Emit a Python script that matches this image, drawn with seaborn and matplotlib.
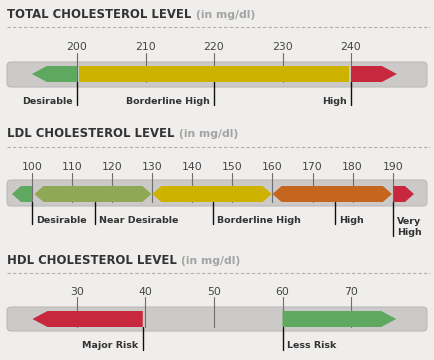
import matplotlib
matplotlib.use("Agg")
import matplotlib.pyplot as plt
from matplotlib.patches import Polygon, FancyBboxPatch
import seaborn as sns

# ---------------- data ----------------
total_ticks = [200, 210, 220, 230, 240]
total_bands = [(193.4, 200.0), (200.3, 239.7), (240.0, 246.7)]
total_shapes = ["left", "rect", "right"]
total_colors = ["#5fa85f", "#cdb300", "#c8283e"]
total_labels = ["Desirable", "Borderline High", "High"]
total_label_at = [200, 220, 240]
total_label_side = ["left", "left", "left"]

ldl_ticks = [100, 110, 120, 130, 140, 150, 160, 170, 180, 190]
ldl_bands = [(95.0, 100.0), (100.6, 129.8), (130.0, 159.8), (160.0, 189.8), (190.2, 195.3)]
ldl_shapes = ["left", "hex", "hex", "hex", "right"]
ldl_colors = ["#5fa85f", "#8fa855", "#cdb300", "#c4661d", "#c8283e"]
ldl_labels = ["Desirable", "Near Desirable", "Borderline High", "High", "Very\nHigh"]
ldl_label_at = [100, 115.7, 145.2, 175.7, 190]
ldl_label_side = ["right", "right", "right", "right", "right"]

hdl_ticks = [30, 40, 50, 60, 70]
hdl_bands = [(23.5, 39.6), (60.0, 76.6)]
hdl_shapes = ["left", "right"]
hdl_colors = ["#c8283e", "#5fa85f"]
hdl_labels = ["Major Risk", "Less Risk"]
hdl_label_at = [39.6, 60]
hdl_label_side = ["left", "right"]

titles = ["TOTAL CHOLESTEROL LEVEL", "LDL CHOLESTEROL LEVEL", "HDL CHOLESTEROL LEVEL"]

W, H = 435, 360
BG = "#efeeec"
DARK = "#333333"

sns.set_theme(style="white", rc={"figure.facecolor": BG, "axes.facecolor": BG})
plt.rcParams["font.family"] = ["DejaVu Sans"]


def band_poly(x0, x1, kind, y0, y1, head):
    ym = (y0 + y1) / 2
    if kind == "left":
        return [(x0, ym), (x0 + head, y0), (x1, y0), (x1, y1), (x0 + head, y1)]
    if kind == "right":
        return [(x0, y0), (x1 - head, y0), (x1, ym), (x1 - head, y1), (x0, y1)]
    if kind == "hex":
        return [(x0, ym), (x0 + head, y0), (x1 - head, y0), (x1, ym),
                (x1 - head, y1), (x0 + head, y1)]
    return [(x0, y0), (x1, y0), (x1, y1), (x0, y1)]


def draw_panel(ax, title, ticks, bands, shapes, colors, labels, label_at, sides,
               ref_val, ref_px, ppu, head_px, y):
    # x scale: data units, y scale: pixel rows (inverted)
    ax.set_xlim(ref_val - ref_px / ppu, ref_val + (W - ref_px) / ppu)
    ax.set_ylim(y["bottom"], y["top"])
    ax.axis("off")
    ya = ax.get_yaxis_transform()

    t = ax.text(7 / W, y["title"], title, transform=ya, ha="left", va="center",
                fontsize=8.4, fontweight="bold", color=DARK)
    ax.annotate("(in mg/dl)", xy=(1, 0.5), xycoords=t, xytext=(3, 0),
                textcoords="offset points", ha="left", va="center",
                fontsize=7.8, fontweight="bold", color="#a3a3a3")
    ax.plot([7 / W, 430 / W], [y["dash"], y["dash"]], transform=ya,
            color="#b0b0b0", lw=0.8, ls=(0, (3, 2)))

    # track
    x0 = ref_val - (ref_px - 7) / ppu
    x1 = ref_val + (427 - ref_px) / ppu
    track = FancyBboxPatch((x0, y["track"][0]), x1 - x0, y["track"][1] - y["track"][0],
                           boxstyle=f"round,pad=0,rounding_size={4 / ppu}",
                           mutation_aspect=ppu, facecolor="#cccac8",
                           edgecolor="#bdbbb9", lw=0.8, zorder=1)
    ax.add_patch(track)

    # ticks
    for v in ticks:
        ax.plot([v, v], [y["tick_top"], y["seg"][1]], color="#6e6e6e", lw=0.8, zorder=2)
        ax.text(v, y["tick"], str(v), ha="center", va="center", fontsize=7.8,
                color="#444444")

    # bands
    head = head_px / ppu
    for (b0, b1), kind, c in zip(bands, shapes, colors):
        ax.add_patch(Polygon(band_poly(b0, b1, kind, y["seg"][0], y["seg"][1], head),
                             closed=True, facecolor=c, edgecolor="none", zorder=3))

    # category labels
    for lab, v, side in zip(labels, label_at, sides):
        n = lab.count("\n")
        ax.plot([v, v], [y["seg"][1], y["lab_bot"] + 12 * n], color="#111111",
                lw=1.0, zorder=4)
        off = -3 if side == "left" else 3
        ax.annotate(lab, xy=(v, y["lab"] + 6 * n), xytext=(off, 0),
                    textcoords="offset points", ha="right" if side == "left" else "left",
                    va="center", fontsize=6.8, fontweight="bold", color=DARK,
                    linespacing=1.2)


fig = plt.figure(figsize=(W / 100, H / 100), dpi=100)
fig.patch.set_facecolor(BG)

layout = [
    dict(top=0, bottom=120, title=15, dash=27, tick=47, tick_top=53,
         track=(62, 87), seg=(66, 82), lab_bot=105, lab=101),
    dict(top=120, bottom=240, title=134, dash=147, tick=167, tick_top=173,
         track=(180, 206), seg=(186, 202), lab_bot=224, lab=221),
    dict(top=240, bottom=360, title=261, dash=273, tick=292, tick_top=297,
         track=(307, 331), seg=(311, 327), lab_bot=350, lab=346),
]

panels = [
    (total_ticks, total_bands, total_shapes, total_colors, total_labels,
     total_label_at, total_label_side, 200, 77, 6.85, 15),
    (ldl_ticks, ldl_bands, ldl_shapes, ldl_colors, ldl_labels,
     ldl_label_at, ldl_label_side, 100, 32, 4.008, 9),
    (hdl_ticks, hdl_bands, hdl_shapes, hdl_colors, hdl_labels,
     hdl_label_at, hdl_label_side, 30, 77, 6.85, 15),
]

for title, p, y in zip(titles, panels, layout):
    ax = fig.add_axes([0, 1 - y["bottom"] / H, 1, (y["bottom"] - y["top"]) / H])
    ax.set_facecolor(BG)
    draw_panel(ax, title, *p, y=y)

fig.savefig("out.png", dpi=100, facecolor=BG)
